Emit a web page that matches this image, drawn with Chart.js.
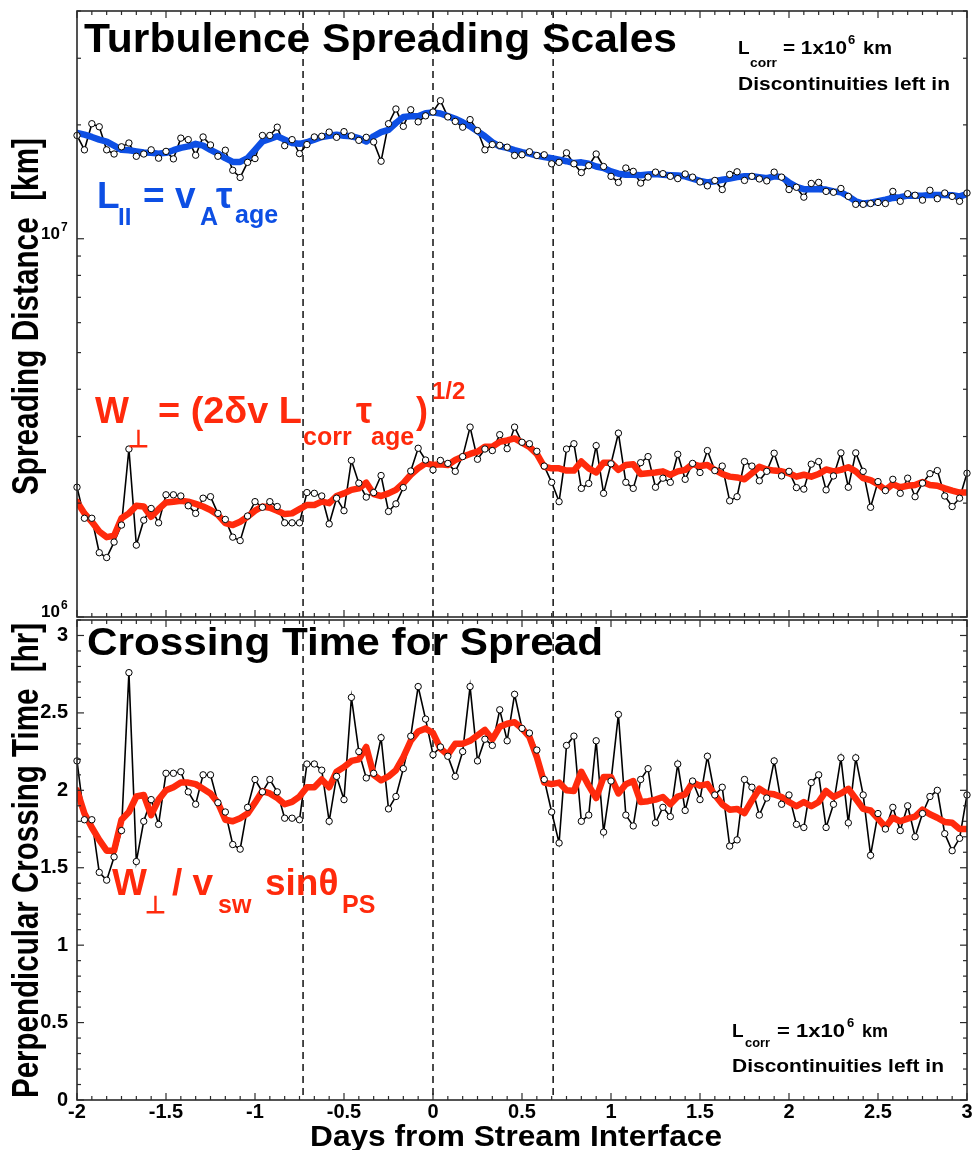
<!DOCTYPE html>
<html>
<head>
<meta charset="utf-8">
<script src="https://cdn.jsdelivr.net/npm/chart.js@4.4.1/dist/chart.umd.min.js"></script>
<style>
html, body { margin: 0; padding: 0; background: #fff; }
#wrap { position: relative; width: 972px; height: 1150px; }
#wrap canvas { position: absolute; left: 0; top: 0; width: 972px; height: 1150px; }
</style>
</head>
<body>
<div id="wrap">
  <canvas id="bottomChart" width="972" height="1150"></canvas>
  <canvas id="topChart" width="972" height="1150"></canvas>
</div>
<script>
// hourly samples, hours from the stream interface
var hours = [-48,-47,-46,-45,-44,-43,-42,-41,-40,-39,-38,-37,-36,-35,-34,-33,-32,-31,-30,-29,
  -28,-27,-26,-25,-24,-23,-22,-21,-20,-19,-18,-17,-16,-15,-14,-13,-12,-11,-10,-9,
  -8,-7,-6,-5,-4,-3,-2,-1,0,1,2,3,4,5,6,7,8,9,10,11,
  12,13,14,15,16,17,18,19,20,21,22,23,24,25,26,27,28,29,30,31,
  32,33,34,35,36,37,38,39,40,41,42,43,44,45,46,47,48,49,50,51,
  52,53,54,55,56,57,58,59,60,61,62,63,64,65,66,67,68,69,70,71,72];

// L_par = vA * tau_age  [10^6 km]
var parallelRaw = [18.75,17.18,20.14,19.77,17.18,16.75,17.50,17.91,16.52,16.75,
  17.18,16.33,17.02,16.26,18.45,18.28,16.63,18.58,17.70,16.52,
  17.14,15.17,14.52,15.92,16.29,18.75,18.75,19.72,17.62,18.28,
  16.79,17.74,18.58,18.66,19.14,18.54,19.19,18.71,18.20,18.54,
  18.03,16.03,20.14,22.03,19.82,21.93,20.37,21.13,21.63,23.17,
  20.99,20.42,19.72,20.65,19.32,17.18,17.74,17.66,17.46,16.60,
  16.67,16.98,16.60,16.67,15.78,15.92,16.87,15.78,14.96,15.60,
  16.75,15.52,14.62,14.09,15.38,15.07,14.03,14.55,15.00,14.86,
  14.62,14.42,14.83,14.55,14.13,13.80,14.26,13.49,14.79,15.03,
  14.26,14.62,14.39,14.22,15.00,14.55,13.49,13.68,12.88,14.00,
  14.09,13.34,13.27,13.58,12.94,12.33,12.33,12.39,12.47,12.39,
  13.34,12.56,13.15,13.03,12.65,13.43,12.76,13.21,12.94,12.56,
  13.21];
var parallelSmooth = [19.05,18.84,18.58,18.28,18.07,17.62,17.18,17.14,17.02,16.90,
  16.87,16.79,16.87,17.14,17.38,17.54,17.82,17.62,17.18,16.79,
  16.33,15.96,15.96,16.33,17.18,18.07,18.37,18.66,18.28,17.91,
  17.82,17.99,18.28,18.58,18.71,18.84,18.71,18.66,18.45,18.07,
  18.66,19.14,19.41,20.23,20.99,21.09,21.09,21.48,21.58,21.43,
  21.09,20.75,20.32,19.82,19.23,18.66,17.99,17.54,17.38,17.14,
  16.94,16.79,16.60,16.44,16.33,16.18,16.03,15.85,15.92,15.78,
  15.52,15.38,15.07,14.86,14.76,14.76,14.72,14.79,14.83,14.76,
  14.72,14.69,14.62,14.42,14.22,14.09,14.19,14.32,14.42,14.55,
  14.62,14.62,14.55,14.45,14.62,14.55,14.09,13.71,13.52,13.52,
  13.52,13.49,13.34,13.27,12.94,12.56,12.39,12.45,12.56,12.68,
  12.82,12.88,13.00,13.00,13.00,13.06,13.06,13.06,13.03,12.94,
  13.12];

// W_perp = (2 dv Lcorr tau_age)^1/2  [10^6 km]
var perpRaw = [2.203,1.824,1.824,1.479,1.436,1.578,1.750,2.780,1.549,1.803,
  1.936,1.774,2.104,2.104,2.089,1.968,1.879,2.061,2.080,1.879,
  1.811,1.626,1.592,1.849,2.018,1.950,2.018,1.959,1.774,1.774,
  1.774,2.133,2.123,2.089,1.762,2.061,1.910,2.594,2.259,2.075,
  2.133,2.366,1.901,1.991,2.198,2.432,2.793,2.600,2.449,2.594,
  2.547,2.427,2.655,3.177,2.612,2.780,2.754,3.034,2.786,3.177,
  2.897,2.871,2.742,2.506,2.270,2.018,2.780,2.871,2.188,2.254,
  2.838,2.123,2.541,3.062,2.270,2.188,2.559,2.655,2.203,2.328,
  2.270,2.692,2.312,2.547,2.410,2.754,2.438,2.506,2.028,2.080,
  2.576,2.506,2.291,2.427,2.710,2.360,2.427,2.198,2.178,2.535,
  2.576,2.168,2.360,2.716,2.203,2.716,2.427,1.950,2.280,2.158,
  2.312,2.123,2.328,2.080,2.259,2.393,2.438,2.089,1.959,2.061,
  2.399];
var perpSmooth = [2.018,1.879,1.786,1.683,1.626,1.640,1.824,1.879,1.968,1.959,
  1.841,1.928,2.009,2.018,2.028,2.018,1.991,1.959,1.919,1.862,
  1.770,1.750,1.786,1.841,1.910,1.959,1.945,1.910,1.871,1.879,
  1.928,1.977,1.977,2.018,2.000,2.089,2.123,2.168,2.188,2.265,
  2.113,2.089,2.123,2.168,2.259,2.377,2.472,2.547,2.523,2.535,
  2.523,2.600,2.655,2.698,2.735,2.818,2.818,2.904,2.931,2.965,
  2.891,2.818,2.698,2.495,2.472,2.472,2.438,2.438,2.576,2.472,
  2.410,2.559,2.559,2.449,2.523,2.535,2.388,2.399,2.410,2.427,
  2.377,2.427,2.449,2.535,2.506,2.523,2.449,2.388,2.350,2.339,
  2.312,2.399,2.495,2.455,2.438,2.427,2.399,2.350,2.377,2.350,
  2.388,2.455,2.427,2.449,2.489,2.427,2.328,2.301,2.244,2.168,
  2.244,2.203,2.223,2.234,2.275,2.234,2.223,2.188,2.158,2.133,
  2.133];

// perpendicular crossing time [hr]
var crossRaw = [2.19,1.81,1.81,1.47,1.42,1.57,1.74,2.76,1.54,1.80,
  1.94,1.78,2.11,2.11,2.12,1.99,1.91,2.10,2.10,1.92,
  1.86,1.65,1.62,1.89,2.07,1.99,2.07,1.99,1.82,1.82,
  1.81,2.17,2.17,2.13,1.80,2.09,1.94,2.60,2.25,2.08,
  2.11,2.34,1.88,1.96,2.14,2.35,2.67,2.46,2.23,2.28,
  2.22,2.09,2.25,2.67,2.19,2.33,2.29,2.52,2.32,2.62,
  2.40,2.37,2.26,2.07,1.86,1.66,2.29,2.35,1.80,1.84,
  2.32,1.73,2.06,2.49,1.84,1.77,2.07,2.14,1.79,1.89,
  1.83,2.17,1.87,2.06,1.94,2.22,1.97,2.02,1.64,1.68,
  2.07,2.02,1.84,1.95,2.19,1.91,1.97,1.78,1.76,2.05,
  2.10,1.76,1.91,2.21,1.79,2.21,1.97,1.58,1.85,1.75,
  1.89,1.74,1.90,1.70,1.85,1.96,2.00,1.72,1.61,1.69,
  1.97];
var crossSmooth = [2.00,1.85,1.76,1.68,1.61,1.61,1.81,1.86,1.96,1.97,
  1.84,1.94,2.00,2.02,2.05,2.05,2.04,2.01,1.98,1.92,
  1.81,1.80,1.82,1.85,1.92,1.995,1.98,1.95,1.91,1.925,
  1.96,2.02,2.02,2.07,2.02,2.12,2.15,2.19,2.20,2.28,
  2.10,2.065,2.09,2.13,2.215,2.32,2.38,2.40,2.37,2.27,
  2.23,2.30,2.30,2.32,2.355,2.39,2.33,2.41,2.43,2.44,
  2.40,2.345,2.215,2.05,2.04,2.05,2.00,1.995,2.12,2.03,
  1.95,2.086,2.086,1.98,2.04,2.06,1.925,1.93,1.94,1.957,
  1.91,1.96,1.974,2.05,2.03,2.04,1.97,1.91,1.875,1.88,
  1.853,1.935,2.01,1.98,1.974,1.957,1.925,1.897,1.925,1.897,
  1.925,1.996,1.957,1.98,2.01,1.946,1.88,1.87,1.817,1.763,
  1.823,1.80,1.817,1.83,1.875,1.845,1.823,1.795,1.79,1.75,
  1.75];

var interfaceMarks = [-0.73, 0, 0.675];
var xTickLabels = ['-2', '-1.5', '-1', '-0.5', '0', '0.5', '1', '1.5', '2', '2.5', '3'];
var crossTickLabels = ['0', '0.5', '1', '1.5', '2', '2.5', '3'];

var BLUE = '#0d4fe4';
var RED = '#ff2a0c';
var FONT = "'Liberation Sans', Arial, Helvetica, sans-serif";

function pts(vals, scale) {
  return vals.map(function (v, i) { return { x: hours[i] / 24, y: v * scale }; });
}

function seriesSets(raw, smooth, color, scale) {
  return [
    { data: pts(raw, scale), showLine: false, pointRadius: 3.2, pointBackgroundColor: '#fff',
      pointBorderColor: '#000', pointBorderWidth: 1, order: 1, clip: false },
    { data: pts(smooth, scale), borderColor: color, borderWidth: 6.5, pointRadius: 0,
      borderJoinStyle: 'round', borderCapStyle: 'round', order: 2 },
    { data: pts(raw, scale), borderColor: '#000', borderWidth: 1.6, pointRadius: 0, order: 3 }
  ];
}

function bold(px) { return 'bold ' + px + 'px ' + FONT; }

function fitText(ctx, txt, x, y, px, w, rotate) {
  ctx.font = bold(px);
  var m = ctx.measureText(txt).width;
  ctx.save();
  ctx.translate(x, y);
  if (rotate) ctx.rotate(-Math.PI / 2);
  ctx.scale(w / m, 1);
  ctx.textAlign = 'left';
  ctx.textBaseline = 'alphabetic';
  ctx.fillText(txt, 0, 0);
  ctx.restore();
}

// [text, x, baseline, size, optional width]
function pieces(ctx, list, color) {
  ctx.save();
  ctx.fillStyle = color;
  ctx.textAlign = 'left';
  ctx.textBaseline = 'alphabetic';
  list.forEach(function (p) {
    if (p[4]) { fitText(ctx, p[0], p[1], p[2], p[3], p[4]); return; }
    ctx.font = bold(p[3]);
    ctx.fillText(p[0], p[1], p[2]);
  });
  ctx.restore();
}

function tick(ctx, x1, y1, x2, y2) {
  ctx.beginPath(); ctx.moveTo(x1, y1); ctx.lineTo(x2, y2); ctx.stroke();
}

function drawFrameAndTicks(chart, yTicks) {
  var ctx = chart.ctx, a = chart.chartArea, xs = chart.scales.x, ys = chart.scales.y;
  ctx.save();
  ctx.strokeStyle = '#2a2a2a';
  ctx.lineWidth = 1.2;
  for (var k = 0; k <= 60; k++) {
    var px = xs.getPixelForValue(-2 + k / 12);
    var len = (k % 6 === 0) ? 7 : 4;
    tick(ctx, px, a.bottom, px, a.bottom - len);
    tick(ctx, px, a.top, px, a.top + len);
  }
  yTicks.forEach(function (t) {
    var py = ys.getPixelForValue(t[0]);
    var len = t[1] ? 7 : 4;
    tick(ctx, a.left, py, a.left + len, py);
    tick(ctx, a.right, py, a.right - len, py);
  });
  ctx.lineWidth = 1.6;
  ctx.strokeRect(a.left, a.top, a.right - a.left, a.bottom - a.top);
  ctx.restore();
}

var dividers = {
  id: 'dividers',
  beforeDatasetsDraw: function (chart) {
    var ctx = chart.ctx, a = chart.chartArea;
    ctx.save();
    ctx.strokeStyle = '#111';
    ctx.lineWidth = 1.5;
    ctx.setLineDash([7, 5]);
    interfaceMarks.forEach(function (v) {
      var px = chart.scales.x.getPixelForValue(v);
      tick(ctx, px, a.top, px, a.bottom);
    });
    ctx.restore();
  }
};

var topDecor = {
  id: 'topDecor',
  afterDraw: function (chart) {
    var ctx = chart.ctx, ys = chart.scales.y;
    var yt = [];
    [1, 2, 3, 4, 5, 6, 7, 8, 9].forEach(function (m) { yt.push([m * 1e6, m === 1]); });
    [1, 2, 3, 4].forEach(function (m) { yt.push([m * 1e7, m === 1]); });
    drawFrameAndTicks(chart, yt);

    ctx.save();
    ctx.fillStyle = '#000';
    [[1e6, '6'], [1e7, '7']].forEach(function (t) {
      var py = ys.getPixelForValue(t[0]);
      ctx.font = bold(17); ctx.textAlign = 'right'; ctx.textBaseline = 'alphabetic';
      ctx.fillText('10', 60, py);
      ctx.font = bold(12); ctx.textAlign = 'left';
      ctx.fillText(t[1], 61, py - 8);
    });
    fitText(ctx, 'Turbulence Spreading Scales', 84, 52, 40, 593);
    fitText(ctx, 'Spreading Distance  [km]', 38, 495, 36, 357, true);
    ctx.restore();

    pieces(ctx, [['L', 738, 54, 19], ['corr', 750, 67, 13, 27], ['= 1x10', 783, 54, 19, 64],
      ['6', 848, 44, 13], ['km', 863, 54, 19, 29], ['Discontinuities left in', 738, 90, 19, 212]], '#000');

    pieces(ctx, [['L', 97, 208, 37], ['II', 118, 225, 24], ['= v', 143, 208, 37],
      ['A', 200, 225, 25], ['\u03c4', 216, 208, 37], ['age', 235, 223, 25]], BLUE);

    pieces(ctx, [['W', 95, 423, 36], ['\u22a5', 128, 447, 24], ['= (2\u03b4v L', 158, 423, 36, 144],
      ['corr', 303, 445, 25], ['\u03c4', 356, 423, 36], ['age', 371, 445, 25],
      [')', 416, 423, 36], ['1/2', 432, 399, 24]], RED);
  }
};

var bottomDecor = {
  id: 'bottomDecor',
  afterDraw: function (chart) {
    var ctx = chart.ctx, xs = chart.scales.x, ys = chart.scales.y;
    var yt = [];
    for (var k = 0; k <= 31; k++) yt.push([k / 10, k % 5 === 0]);
    drawFrameAndTicks(chart, yt);

    ctx.save();
    ctx.fillStyle = '#000';
    ctx.font = bold(20);
    ctx.textAlign = 'right'; ctx.textBaseline = 'middle';
    crossTickLabels.forEach(function (s) { ctx.fillText(s, 68, ys.getPixelForValue(parseFloat(s))); });
    ctx.textAlign = 'center'; ctx.textBaseline = 'alphabetic';
    xTickLabels.forEach(function (s) { ctx.fillText(s, xs.getPixelForValue(parseFloat(s)), 1118); });
    fitText(ctx, 'Days from Stream Interface', 310, 1146, 30, 412);
    fitText(ctx, 'Crossing Time for Spread', 87, 655, 39, 516);
    fitText(ctx, 'Perpendicular Crossing Time  [hr]', 38, 1098, 36, 475, true);
    ctx.restore();

    pieces(ctx, [['L', 732, 1037, 19], ['corr', 745, 1047, 12, 25], ['= 1x10', 777, 1037, 19, 68],
      ['6', 847, 1027, 13], ['km', 862, 1037, 19, 26], ['Discontinuities left in', 732, 1072, 19, 212]], '#000');

    pieces(ctx, [['W', 112, 895, 37], ['\u22a5', 145, 913, 24], ['/ v', 172, 895, 37],
      ['sw', 218, 913, 25], ['sin\u03b8', 265, 895, 37], ['PS', 342, 913, 25]], RED);
  }
};

function baseOptions(yScale, padding) {
  return {
    responsive: false,
    animation: false,
    devicePixelRatio: 1,
    events: [],
    layout: { padding: padding },
    plugins: { legend: { display: false }, tooltip: { enabled: false } },
    scales: {
      x: { type: 'linear', min: -2, max: 3, display: false },
      y: yScale
    }
  };
}

new Chart(document.getElementById('topChart'), {
  type: 'line',
  data: { datasets: seriesSets(parallelRaw, parallelSmooth, BLUE, 1e6).concat(seriesSets(perpRaw, perpSmooth, RED, 1e6)) },
  options: baseOptions({ type: 'logarithmic', min: 1e6, max: 4e7, display: false },
    { left: 77, right: 5, top: 11, bottom: 533 }),
  plugins: [dividers, topDecor]
});

new Chart(document.getElementById('bottomChart'), {
  type: 'line',
  data: { datasets: seriesSets(crossRaw, crossSmooth, RED, 1) },
  options: baseOptions({ type: 'linear', min: 0, max: 3.1, display: false },
    { left: 77, right: 5, top: 620, bottom: 50 }),
  plugins: [dividers, bottomDecor]
});
</script>
</body>
</html>
